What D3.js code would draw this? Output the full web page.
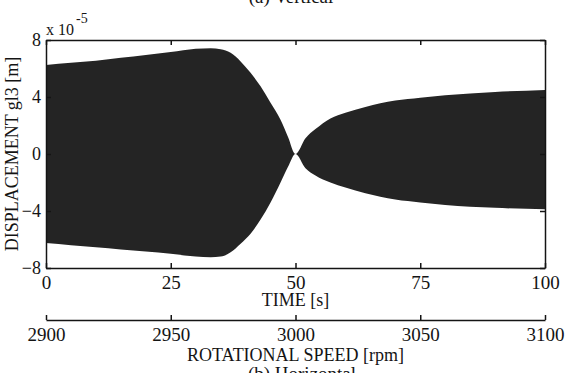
<!DOCTYPE html>
<html>
<head>
<meta charset="utf-8">
<script src="https://cdn.jsdelivr.net/npm/d3@7"></script>
<style>
  html, body { margin: 0; padding: 0; background: #fff; }
  svg { display: block; }
</style>
</head>
<body>
<div id="chart"></div>
<script>
// envelope of the displacement signal (units of 1e-5 m)
const times = [0, 5, 10, 15, 20, 25, 30, 33, 35, 37, 39, 41, 43, 45, 47, 48.5, 50,
  52, 54, 57, 60, 64, 70, 75, 80, 90, 100];
const upper = [6.25, 6.4, 6.55, 6.75, 6.95, 7.15, 7.38, 7.42, 7.35, 7.1, 6.5, 5.7, 4.75, 3.6, 2.4, 1.2, 0,
  1.1, 1.75, 2.5, 2.9, 3.3, 3.75, 3.95, 4.12, 4.35, 4.5];
const lower = [-6.25, -6.4, -6.55, -6.7, -6.85, -7.0, -7.2, -7.25, -7.2, -6.9, -6.3, -5.6, -4.6, -3.4, -2.0, -0.9, 0,
  -1.0, -1.5, -2.0, -2.35, -2.75, -3.2, -3.4, -3.58, -3.78, -3.88];

const timeTicks = [0, 25, 50, 75, 100];
const dispTicks = [-8, -4, 0, 4, 8];
const rpmTicks = [2900, 2950, 3000, 3050, 3100];

const W = 569, H = 373;
const margin = { top: 40, right: 24, bottom: 105, left: 46 };
const width = W - margin.left - margin.right;
const height = H - margin.top - margin.bottom;
const ink = "#141414";
const serif = '"Liberation Serif", "DejaVu Serif", serif';

const svg = d3.select("#chart").append("svg")
  .attr("width", W)
  .attr("height", H)
  .style("font-family", serif);

const g = svg.append("g")
  .attr("transform", `translate(${margin.left},${margin.top})`);

const x = d3.scaleLinear().domain([0, 100]).range([0, width]);
const y = d3.scaleLinear().domain([-8, 8]).range([height, 0]);
const rpm = d3.scaleLinear().domain([2900, 3100]).range([0, width]);

const env = times.map((t, i) => ({ t, hi: upper[i], lo: lower[i] }));

// filled signal envelope
g.append("path")
  .datum(env)
  .attr("fill", "#242424")
  .attr("d", d3.area()
    .x(d => x(d.t))
    .y0(d => y(d.lo))
    .y1(d => y(d.hi))
    .curve(d3.curveMonotoneX));

// axes (ticks pointing inward)
const styleAxis = (sel, size) => {
  sel.attr("font-family", null).attr("font-size", null);
  sel.select(".domain").attr("stroke", ink).attr("stroke-width", 1.5);
  sel.selectAll(".tick line").attr("stroke", ink).attr("stroke-width", 1.5);
  sel.selectAll("text")
    .attr("fill", ink)
    .style("font-family", serif)
    .style("font-size", size + "px");
};

g.append("g")
  .attr("transform", `translate(0,${height})`)
  .call(d3.axisBottom(x).tickValues(timeTicks).tickSize(-5).tickPadding(7.5).tickSizeOuter(0))
  .call(s => styleAxis(s, 19));

g.append("g")
  .call(d3.axisTop(x).tickValues(timeTicks).tickSize(-5).tickFormat("").tickSizeOuter(0))
  .call(s => styleAxis(s, 19));

g.append("g")
  .call(d3.axisLeft(y).tickValues(dispTicks).tickSize(-5).tickPadding(5).tickSizeOuter(0))
  .call(s => styleAxis(s, 18));

g.append("g")
  .attr("transform", `translate(${width},0)`)
  .call(d3.axisRight(y).tickValues(dispTicks).tickSize(-5).tickFormat("").tickSizeOuter(0))
  .call(s => styleAxis(s, 18));

// multiplier
const mult = g.append("text")
  .attr("x", 0)
  .attr("y", -5)
  .attr("fill", ink)
  .style("font-size", "16px");
mult.append("tspan").text("x 10");
mult.append("tspan").attr("dy", -12).attr("dx", 2).style("font-size", "14px").text("-5");

// axis titles
g.append("text")
  .attr("x", x(50))
  .attr("y", height + 38)
  .attr("text-anchor", "middle")
  .attr("fill", ink)
  .style("font-size", "18px")
  .text("TIME [s]");

g.append("text")
  .attr("transform", `translate(-28,${height / 2}) rotate(-90)`)
  .attr("text-anchor", "middle")
  .attr("fill", ink)
  .style("font-size", "18px")
  .text("DISPLACEMENT gl3 [m]");

// secondary speed axis
g.append("g")
  .attr("transform", `translate(0,${height + 52})`)
  .call(d3.axisBottom(rpm).tickValues(rpmTicks).tickFormat(d3.format("d"))
    .tickSize(-5).tickPadding(8).tickSizeOuter(0))
  .call(s => styleAxis(s, 19));

g.append("text")
  .attr("x", rpm(3000))
  .attr("y", height + 93)
  .attr("text-anchor", "middle")
  .attr("fill", ink)
  .style("font-size", "18px")
  .text("ROTATIONAL SPEED [rpm]");

// panel captions, cut by the page edges as in the scan
svg.append("text")
  .attr("x", 291)
  .attr("y", 3)
  .attr("text-anchor", "middle")
  .attr("fill", ink)
  .style("font-size", "19px")
  .text("(a) Vertical");

svg.append("text")
  .attr("x", 302)
  .attr("y", 380)
  .attr("text-anchor", "middle")
  .attr("fill", ink)
  .style("font-size", "19px")
  .text("(b) Horizontal");
</script>
</body>
</html>
